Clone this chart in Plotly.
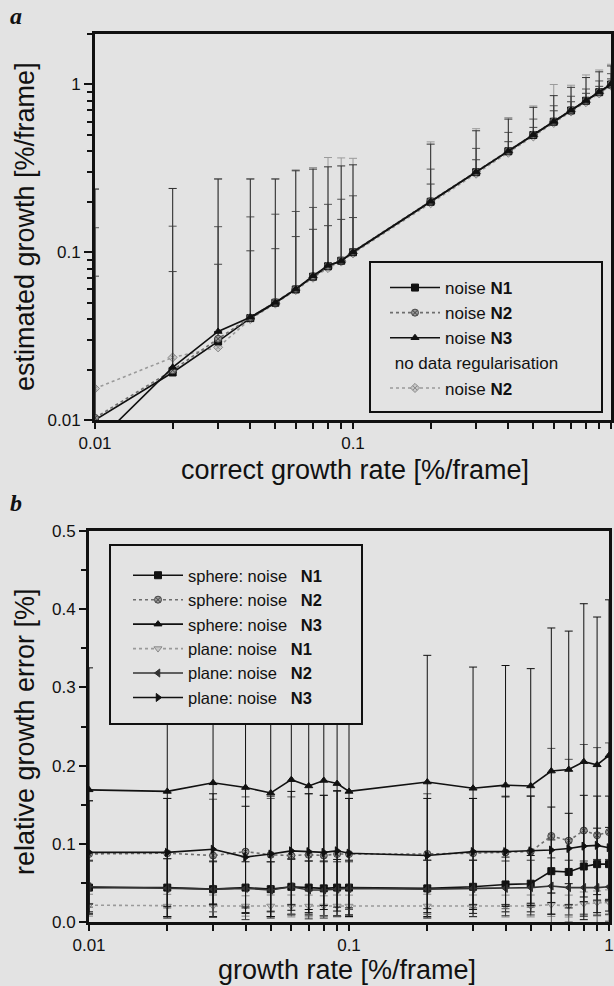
import plotly.graph_objects as go

# ---------------- data ----------------
x_rate = [0.01, 0.02, 0.03, 0.04, 0.05, 0.06, 0.07, 0.08, 0.09, 0.1,
          0.2, 0.3, 0.4, 0.5, 0.6, 0.7, 0.8, 0.9, 1.0]

# panel a: estimated growth
a_n1 = [0.0100, 0.0192, 0.0294, 0.0405, 0.0500, 0.0600, 0.0715, 0.0825, 0.0890, 0.1000,
        0.200, 0.300, 0.400, 0.500, 0.600, 0.700, 0.800, 0.900, 1.000]
a_n2 = [0.0103, 0.0198, 0.0305, 0.0408, 0.0505, 0.0605, 0.0720, 0.0830, 0.0895, 0.1010,
        0.202, 0.302, 0.402, 0.503, 0.603, 0.703, 0.803, 0.903, 1.005]
a_n3 = [0.0072, 0.0206, 0.0337, 0.0410, 0.0502, 0.0603, 0.0723, 0.0835, 0.0887, 0.1005,
        0.201, 0.301, 0.401, 0.502, 0.602, 0.702, 0.802, 0.902, 1.003]
a_noreg_n2 = [0.0154, 0.0236, 0.0271, 0.0400, 0.0495, 0.0595, 0.0705, 0.0805, 0.0880, 0.0985,
              0.196, 0.294, 0.392, 0.490, 0.590, 0.690, 0.785, 0.885, 0.985]
# upper ends of the error bars
a_n1_top = [0.072, 0.0767, 0.0848, 0.102, 0.105, 0.124, 0.137, 0.144, 0.157, 0.161,
            0.255, 0.356, 0.456, 0.555, 0.697, 0.789, 0.886, 0.975, 1.08]
a_n2_top = [0.140, 0.143, 0.142, 0.1625, 0.1686, 0.175, 0.185, 0.193, 0.207, 0.217,
            0.313, 0.416, 0.518, 0.622, 0.747, 0.851, 0.94, 1.05, 1.16]
a_n3_top = [0.238, 0.240, 0.273, 0.273, 0.273, 0.306, 0.313, 0.323, 0.327, 0.332,
            0.441, 0.530, 0.622, 0.731, 0.858, 0.962, 1.10, 1.19, 1.29]
a_noreg_top = [0.238, 0.240, 0.275, 0.275, 0.275, 0.310, 0.320, 0.367, 0.365, 0.363,
               0.455, 0.545, 0.635, 0.745, 1.00, 0.99, 1.14, 1.22, 1.32]

# panel b: relative growth error
sph_n1 = [0.044, 0.044, 0.042, 0.044, 0.042, 0.045, 0.044, 0.043, 0.044, 0.044,
          0.043, 0.045, 0.048, 0.049, 0.065, 0.064, 0.071, 0.074, 0.074]
sph_n2 = [0.087, 0.088, 0.085, 0.090, 0.086, 0.085, 0.086, 0.085, 0.087, 0.087,
          0.087, 0.088, 0.089, 0.090, 0.110, 0.104, 0.117, 0.111, 0.115]
sph_n3 = [0.169, 0.167, 0.178, 0.172, 0.165, 0.182, 0.174, 0.181, 0.177, 0.167,
          0.179, 0.171, 0.175, 0.174, 0.193, 0.195, 0.205, 0.201, 0.213]
pl_n1 = [0.0215, 0.0204, 0.0205, 0.0205, 0.0205, 0.0205, 0.0204, 0.0205, 0.0205, 0.0204,
         0.0205, 0.0205, 0.0204, 0.0205, 0.0222, 0.0204, 0.0234, 0.0247, 0.0251]
pl_n2 = [0.045, 0.043, 0.042, 0.043, 0.041, 0.045, 0.041, 0.041, 0.042, 0.043,
         0.042, 0.043, 0.043, 0.044, 0.046, 0.044, 0.044, 0.044, 0.045]
pl_n3 = [0.089, 0.089, 0.093, 0.083, 0.087, 0.091, 0.090, 0.089, 0.091, 0.088,
         0.085, 0.090, 0.090, 0.091, 0.092, 0.094, 0.097, 0.098, 0.095]
sph_n1_err = [0.034, 0.037, 0.035, 0.033, 0.035, 0.036, 0.034, 0.035, 0.036, 0.035,
              0.036, 0.034, 0.035, 0.036, 0.040, 0.042, 0.045, 0.046, 0.047]
sph_n2_err = [0.068, 0.070, 0.072, 0.070, 0.072, 0.075, 0.078, 0.077, 0.080, 0.071,
              0.077, 0.070, 0.072, 0.071, 0.112, 0.104, 0.110, 0.112, 0.114]
sph_n3_err = [0.156, 0.160, 0.155, 0.160, 0.158, 0.160, 0.162, 0.160, 0.158, 0.160,
              0.162, 0.155, 0.153, 0.150, 0.183, 0.177, 0.202, 0.189, 0.199]
pl_n1_err = [0.014, 0.015, 0.014, 0.013, 0.014, 0.014, 0.014, 0.013, 0.014, 0.014,
             0.015, 0.014, 0.014, 0.014, 0.015, 0.014, 0.015, 0.015, 0.016]
pl_n2_err = [0.034, 0.038, 0.036, 0.040, 0.036, 0.035, 0.037, 0.036, 0.035, 0.034,
             0.037, 0.036, 0.035, 0.035, 0.036, 0.035, 0.034, 0.036, 0.035]
pl_n3_err = [0.066, 0.069, 0.071, 0.065, 0.074, 0.076, 0.074, 0.073, 0.077, 0.070,
             0.073, 0.068, 0.070, 0.070, 0.055, 0.045, 0.065, 0.063, 0.066]

log_major = [0.01, 0.1, 1]
log_major_text = ["0.01", "0.1", "1"]
log_minor = [0.02, 0.03, 0.04, 0.05, 0.06, 0.07, 0.08, 0.09,
             0.2, 0.3, 0.4, 0.5, 0.6, 0.7, 0.8, 0.9, 2]
b_yticks = [0.0, 0.1, 0.2, 0.3, 0.4, 0.5]
b_yticktext = ["0.0", "0.1", "0.2", "0.3", "0.4", "0.5"]

# ---------------- styling ----------------
W, H = 614, 986
BG = "#e3e3e3"
FONT = "Liberation Sans, Arial, sans-serif"
BLACK = "#111111"
GRAY = "#6e6e6e"
LGRAY = "#9a9a9a"
LEG_FS = 17
LEG2_FS = 16.5
SP = "\u00a0"


def px(xp):
    return xp / W


def py(yp):
    return 1 - yp / H


fig = go.Figure()


def up_err(top, val):
    return [t - v for t, v in zip(top, val)]


def add_a(y, top, name, color, dash, symbol, mcolor, mline, group, err_color, rank):
    fig.add_trace(go.Scatter(
        x=x_rate, y=y, name=name, mode="lines+markers",
        line=dict(color=color, width=1.6, dash=dash),
        marker=dict(symbol=symbol, size=7, color=mcolor, line=dict(color=mline, width=1)),
        error_y=dict(type="data", symmetric=False, array=up_err(top, y),
                     arrayminus=[0] * len(y), color=err_color, thickness=1, width=4),
        xaxis="x", yaxis="y", legend="legend", legendgroup=group, legendrank=rank,
    ))


add_a(a_noreg_n2, a_noreg_top, "noise <b>N2</b>", LGRAY, "dot", "diamond-x", "#c8c8c8", "#8a8a8a", "g2", "#9a9a9a", 2000)
add_a(a_n1, a_n1_top, "noise <b>N1</b>", BLACK, "solid", "square", BLACK, BLACK, "g1", "#444", 1001)
add_a(a_n2, a_n2_top, "noise <b>N2</b>", GRAY, "dot", "circle-x", "#9a9a9a", "#444", "g1", "#555", 1002)
add_a(a_n3, a_n3_top, "noise <b>N3</b>", BLACK, "solid", "triangle-up", BLACK, BLACK, "g1", "#333", 1003)
fig.data[0].legendgrouptitle = dict(text=SP + "no data regularisation",
                                    font=dict(size=LEG_FS, family=FONT, color=BLACK))


def add_b(y, err, name, color, dash, symbol, mcolor, mline, err_color, rank):
    fig.add_trace(go.Scatter(
        x=x_rate, y=y, name=name, mode="lines+markers",
        line=dict(color=color, width=1.6, dash=dash),
        marker=dict(symbol=symbol, size=7, color=mcolor, line=dict(color=mline, width=1)),
        error_y=dict(type="data", array=err, color=err_color, thickness=1, width=4),
        xaxis="x2", yaxis="y2", legend="legend2", legendrank=rank,
    ))


add_b(pl_n1, pl_n1_err, "plane: noise" + SP * 3 + "<b>N1</b>", LGRAY, "dot", "triangle-down", "#c8c8c8", "#8a8a8a", "#8a8a8a", 4)
add_b(sph_n1, sph_n1_err, "sphere: noise" + SP * 3 + "<b>N1</b>", BLACK, "solid", "square", BLACK, BLACK, BLACK, 1)
add_b(pl_n2, pl_n2_err, "plane: noise" + SP * 3 + "<b>N2</b>", "#333", "solid", "triangle-left", "#333", "#333", "#333", 5)
add_b(sph_n2, sph_n2_err, "sphere: noise" + SP * 3 + "<b>N2</b>", GRAY, "dot", "circle-x", "#9a9a9a", "#444", "#555", 2)
add_b(pl_n3, pl_n3_err, "plane: noise" + SP * 3 + "<b>N3</b>", BLACK, "solid", "triangle-right", BLACK, BLACK, BLACK, 6)
add_b(sph_n3, sph_n3_err, "sphere: noise" + SP * 3 + "<b>N3</b>", BLACK, "solid", "triangle-up", BLACK, BLACK, BLACK, 3)

axis_common = dict(showgrid=False, zeroline=False, showline=True, linecolor=BLACK, linewidth=3,
                   mirror=True, ticks="outside", tickcolor=BLACK, tickwidth=2, automargin=False,
                   tickfont=dict(family=FONT, size=17, color=BLACK))

fig.update_layout(
    width=W, height=H, margin=dict(l=0, r=0, t=0, b=0, autoexpand=False),
    paper_bgcolor=BG, plot_bgcolor=BG,
    font=dict(family=FONT, color=BLACK),
    xaxis=dict(type="log", range=[-2, 0], domain=[px(95), px(611)], anchor="y",
               tickmode="array", tickvals=log_major, ticktext=log_major_text, ticklen=6,
               minor=dict(tickmode="array", tickvals=log_minor, ticks="outside", ticklen=6,
                          tickwidth=2, tickcolor=BLACK), **axis_common),
    yaxis=dict(type="log", range=[-2, 0.301], domain=[py(420), py(34)], anchor="x",
               tickmode="array", tickvals=log_major, ticktext=log_major_text, ticklen=8,
               minor=dict(tickmode="array", tickvals=log_minor, ticks="outside", ticklen=5,
                          tickwidth=2, tickcolor=BLACK), **axis_common),
    xaxis2=dict(type="log", range=[-2, 0], domain=[px(89), px(609)], anchor="y2",
                tickmode="array", tickvals=log_major, ticktext=log_major_text, ticklen=6,
                minor=dict(tickmode="array", tickvals=log_minor, ticks="outside", ticklen=6,
                           tickwidth=2, tickcolor=BLACK), **axis_common),
    yaxis2=dict(range=[0, 0.5], domain=[py(922), py(531)], anchor="x2",
                tickmode="array", tickvals=b_yticks, ticktext=b_yticktext, ticklen=7,
                minor=dict(dtick=0.05, ticks="outside", ticklen=5, tickwidth=2, tickcolor=BLACK),
                **axis_common),
    legend=dict(x=px(385), y=py(270), xanchor="left", yanchor="top",
                bgcolor="rgba(0,0,0,0)", borderwidth=0, itemwidth=50,
                font=dict(family=FONT, size=LEG_FS, color=BLACK),
                traceorder="grouped", tracegroupgap=0),
    legend2=dict(x=px(128), y=py(558), xanchor="left", yanchor="top",
                 bgcolor="rgba(0,0,0,0)", borderwidth=0, itemwidth=50,
                 font=dict(family=FONT, size=LEG2_FS, color=BLACK), traceorder="normal"),
    showlegend=True,
)

# legend boxes
fig.add_shape(type="rect", xref="paper", yref="paper", x0=px(370), x1=px(602), y0=py(412), y1=py(262),
              line=dict(color=BLACK, width=2), fillcolor=BG, layer="above")
fig.add_shape(type="rect", xref="paper", yref="paper", x0=px(110), x1=px(362), y0=py(724), y1=py(545),
              line=dict(color=BLACK, width=2), fillcolor=BG, layer="above")

# titles and panel labels
ann = [
    dict(text="estimated growth [%/frame]", x=px(25), y=py(227), textangle=-90, size=27),
    dict(text="correct growth rate [%/frame]", x=px(355), y=py(470), textangle=0, size=27),
    dict(text="relative growth error [%]", x=px(25), y=py(732), textangle=-90, size=27),
    dict(text="growth rate [%/frame]", x=px(347), y=py(970), textangle=0, size=27),
]
for a in ann:
    fig.add_annotation(text=a["text"], x=a["x"], y=a["y"], xref="paper", yref="paper",
                       showarrow=False, textangle=a["textangle"], xanchor="center", yanchor="middle",
                       font=dict(family=FONT, size=a["size"], color=BLACK))
for lab, yy in (("a", 16), ("b", 503)):
    fig.add_annotation(text="<b><i>%s</i></b>" % lab, x=px(8), y=py(yy), xref="paper", yref="paper",
                       showarrow=False, xanchor="left", yanchor="middle",
                       font=dict(family="Liberation Serif, Times New Roman, serif", size=24, color=BLACK))

fig.write_html("out.html", config={"displayModeBar": False},
               post_script="document.body.style.margin='0px';document.body.style.overflow='hidden';")
